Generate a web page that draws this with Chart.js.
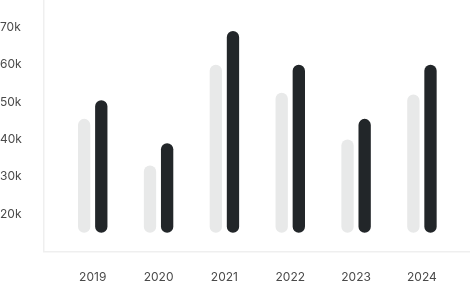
<html>

<head>
    <script src="https://cdn.jsdelivr.net/npm/chart.js"></script>
    <style>
        body { margin: 0; background: #fff; }
        #wrap { width: 470px; height: 286px; position: relative; }
    </style>
</head>

<body>
    <div id="wrap">
        <canvas id="myChart"></canvas>
    </div>

    <script>
        // values
        const years = ['2019', '2020', '2021', '2022', '2023', '2024'];
        const previous = [45500, 33000, 60000, 52500, 40000, 52000];
        const current = [50500, 39000, 69000, 60000, 45500, 60000];
        const barBase = 15000;
        const yTicks = [20000, 30000, 40000, 50000, 60000, 70000];

        const toPoints = (vals) => vals.map((v, i) => ({ x: i, y: [barBase, v] }));

        const tickFont = { family: 'Inter', size: 12 };

        const ctx = document.getElementById('myChart').getContext('2d');
        const myChart = new Chart(ctx, {
            type: 'bar',
            data: {
                datasets: [
                    {
                        data: toPoints(previous),
                        backgroundColor: '#e8e9e9',
                        borderRadius: 7,
                        borderSkipped: false,
                    },
                    {
                        data: toPoints(current),
                        backgroundColor: '#222629',
                        borderRadius: 7,
                        borderSkipped: false,
                    }
                ]
            },
            options: {
                responsive: true,
                maintainAspectRatio: false,
                animation: false,
                categoryPercentage: 0.52,
                barPercentage: 0.72,
                layout: { padding: 0 },
                plugins: {
                    legend: { display: false },
                    tooltip: { enabled: false }
                },
                scales: {
                    x: {
                        type: 'linear',
                        offset: false,
                        min: -0.74,
                        max: 5.73,
                        grid: { display: false, drawTicks: false },
                        border: { color: '#efefef', width: 1.5 },
                        afterFit: (s) => {
                            s.height = 34.5;
                            s.paddingLeft = 0;
                            s.paddingRight = 0;
                        },
                        ticks: {
                            stepSize: 1,
                            includeBounds: false,
                            padding: 18.5,
                            color: '#4a4a4a',
                            font: tickFont,
                            callback: (v) => years[Math.round(v)] ?? ''
                        }
                    },
                    y: {
                        min: 10000,
                        max: 77300,
                        grid: { display: false, drawTicks: false },
                        border: { color: '#efefef', width: 1.5 },
                        afterFit: (s) => {
                            s.width = 44;
                            s.paddingTop = 0;
                            s.paddingBottom = 0;
                        },
                        afterBuildTicks: (s) => {
                            s.ticks = yTicks.map((v) => ({ value: v }));
                        },
                        ticks: {
                            crossAlign: 'far',
                            padding: 0,
                            color: '#4a4a4a',
                            font: tickFont,
                            callback: (v) => Math.round(v / 1000) + 'k'
                        }
                    }
                }
            }
        });
    </script>

</body>

</html>
